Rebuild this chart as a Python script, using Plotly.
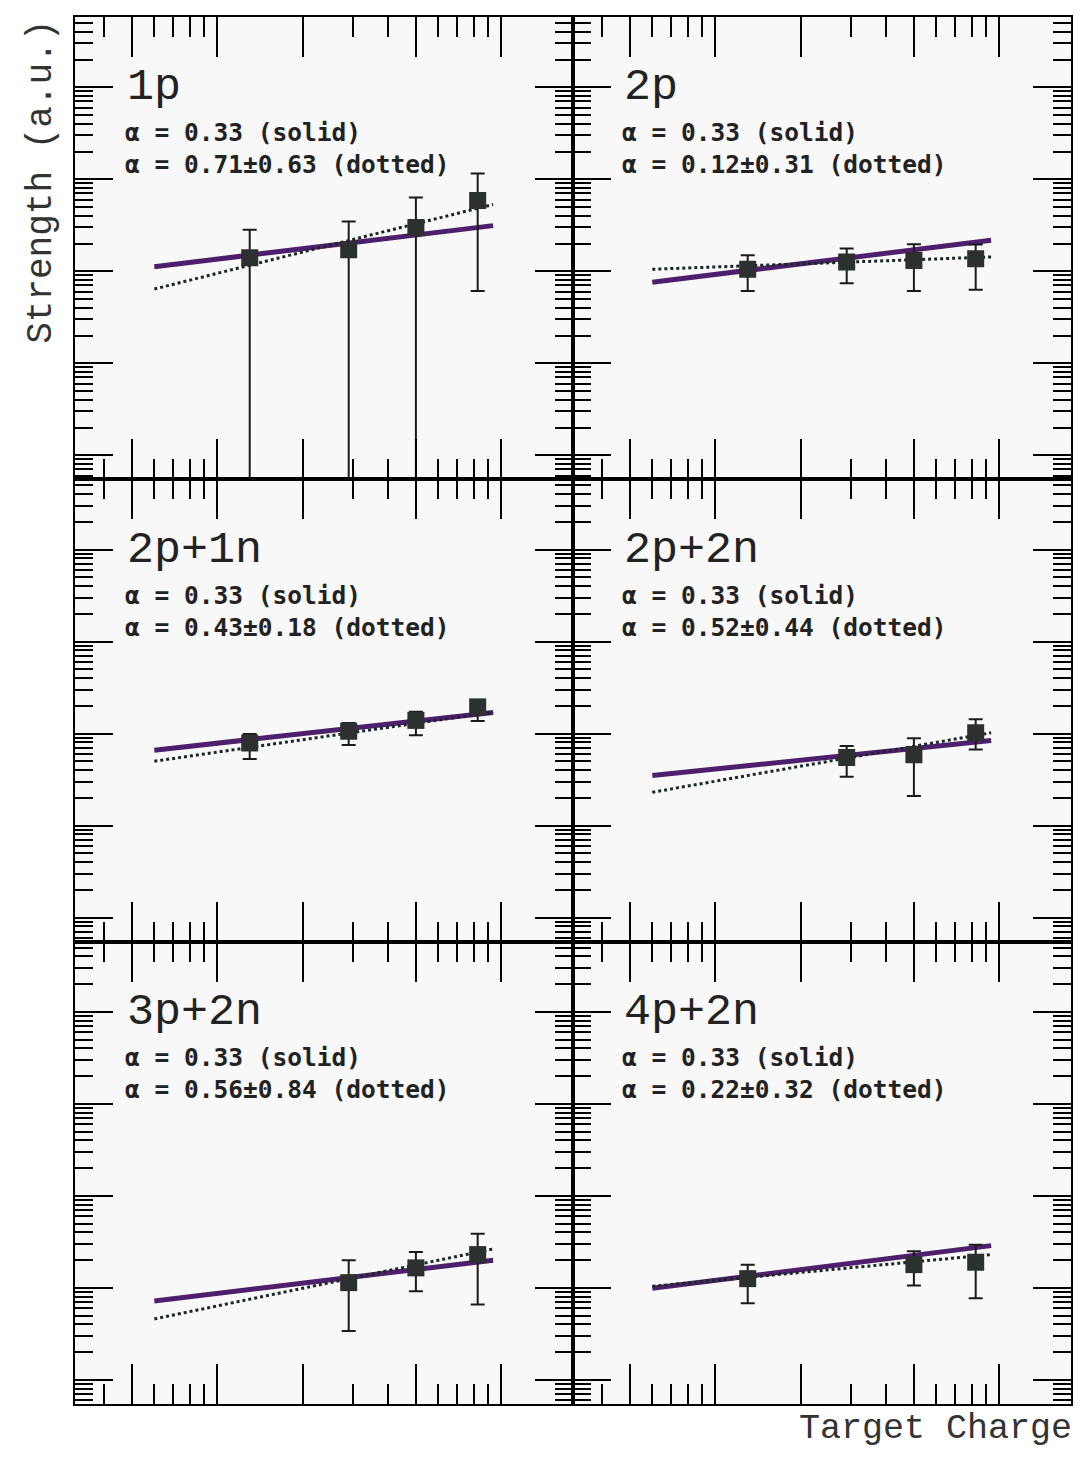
import plotly.graph_objects as go
from plotly.subplots import make_subplots

# ---------------- data ----------------
panel_names = ["1p", "2p", "2p+1n", "2p+2n", "3p+2n", "4p+2n"]
alpha_fixed = "0.33"
alpha_fit = ["0.71±0.63", "0.12±0.31", "0.43±0.18", "0.52±0.44", "0.56±0.84", "0.22±0.32"]

charge_1p = [26, 58, 100, 165]
strength_1p = [140, 171, 298, 586]
upper_1p = [283, 347, 632, 1156]
lower_1p = [0, 0, 0, 61]

charge_2p = [26, 58, 100, 165]
strength_2p = [105, 126, 131, 137]
upper_2p = [149, 177, 196, 195]
lower_2p = [61, 74, 61, 63]

charge_2p1n = [26, 58, 100, 165]
strength_2p1n = [79, 106, 139, 195]
upper_2p1n = [99, 130, 173, 230]
lower_2p1n = [53, 75, 96, 137]

charge_2p2n = [58, 100, 165]
strength_2p2n = [55, 59, 102]
upper_2p2n = [73, 89, 143]
lower_2p2n = [34, 21, 67]

charge_3p2n = [58, 100, 165]
strength_3p2n = [11.4, 16.5, 23.0]
upper_3p2n = [20.0, 24.6, 38.8]
lower_3p2n = [3.4, 9.2, 6.6]

charge_4p2n = [26, 100, 165]
strength_4p2n = [12.6, 17.9, 19.0]
upper_4p2n = [17.9, 25.0, 29.5]
lower_4p2n = [6.8, 10.6, 7.7]

fit_charge = [12, 187]
solid_fit = [[112, 313], [76, 217], [66, 169], [35, 84], [7.2, 20.0], [9.9, 28.8]]
dotted_fit = [[64, 531], [105, 143], [50, 171], [23, 102], [4.6, 26.5], [10.4, 23.0]]

# axis tick values
x_major = [10, 20, 40, 100, 200]
x_minor = [8, 12, 14, 16, 18, 60, 80, 120, 140, 160, 180]
y_major = [1, 10, 100, 1000, 10000]
y_minor = [m * 10 ** k for k in range(-1, 5) for m in range(2, 10)]

panels = [
    (charge_1p, strength_1p, upper_1p, lower_1p),
    (charge_2p, strength_2p, upper_2p, lower_2p),
    (charge_2p1n, strength_2p1n, upper_2p1n, lower_2p1n),
    (charge_2p2n, strength_2p2n, upper_2p2n, lower_2p2n),
    (charge_3p2n, strength_3p2n, upper_3p2n, lower_3p2n),
    (charge_4p2n, strength_4p2n, upper_4p2n, lower_4p2n),
]

# ---------------- figure ----------------
# the page body has an 8px margin: compensate so the plot lands where the reference has it
OFF = 8
W, H = 1072, 1445
ML, MR, MT, MB = 75 - OFF, 8, 15 - OFF, 49
PW, PH = W - ML - MR, H - MT - MB

fig = make_subplots(rows=3, cols=2, horizontal_spacing=0, vertical_spacing=0)

SOLID_COLOR = "#4e1f6c"
DOT_COLOR = "#1c2626"
MARK_COLOR = "#2c302e"

for i, (xs, ys, up, lo) in enumerate(panels):
    r, c = i // 2 + 1, i % 2 + 1
    fig.add_trace(go.Scatter(x=fit_charge, y=solid_fit[i], mode="lines",
                             line=dict(color=SOLID_COLOR, width=5), showlegend=False),
                  row=r, col=c)
    fig.add_trace(go.Scatter(x=fit_charge, y=dotted_fit[i], mode="lines",
                             line=dict(color=DOT_COLOR, width=3, dash="dot"), showlegend=False),
                  row=r, col=c)
    fig.add_trace(go.Scatter(
        x=xs, y=ys, mode="markers",
        marker=dict(symbol="square", size=17, color=MARK_COLOR),
        error_y=dict(type="data", symmetric=False,
                     array=[u - y for u, y in zip(up, ys)],
                     arrayminus=[y - l for y, l in zip(ys, lo)],
                     color="#1a1a1a", thickness=2, width=7),
        showlegend=False), row=r, col=c)

axis_common = dict(type="log", showgrid=False, zeroline=False, showline=True,
                   linecolor="black", linewidth=2, mirror="ticks", ticks="inside",
                   tickcolor="black", tickwidth=2, showticklabels=False, tickmode="array")

fig.update_xaxes(**axis_common, range=[0.80, 2.553], tickvals=x_major, ticklen=40,
                 minor=dict(tickmode="array", tickvals=x_minor, ticks="inside", ticklen=20,
                            tickwidth=2, tickcolor="black", showgrid=False))
fig.update_yaxes(**axis_common, range=[-0.262, 4.763], tickvals=y_major, ticklen=38,
                 minor=dict(tickmode="array", tickvals=y_minor, ticks="inside", ticklen=18,
                            tickwidth=1.6, tickcolor="black", showgrid=False))


def px(xp):
    return (xp - OFF - ML) / PW


def py(yp):
    return 1 - (yp - OFF - MT) / PH


annotations = []
col_left = [75, 573]
row_top = [15, 478, 941]
for i, name in enumerate(panel_names):
    r, c = i // 2, i % 2
    x0 = col_left[c] + 50
    y0 = row_top[r]
    annotations.append(dict(x=px(x0), y=py(y0 + 71), xref="paper", yref="paper",
                            text=name, showarrow=False, xanchor="left", yanchor="middle",
                            font=dict(family="Liberation Mono", size=45, color="#222")))
    annotations.append(dict(x=px(x0 - 2), y=py(y0 + 116), xref="paper", yref="paper",
                            text="<b>α = " + alpha_fixed + " (solid)</b>", showarrow=False,
                            xanchor="left", yanchor="middle",
                            font=dict(family="DejaVu Sans Mono", size=24.5, color="#222")))
    annotations.append(dict(x=px(x0 - 2), y=py(y0 + 148), xref="paper", yref="paper",
                            text="<b>α = " + alpha_fit[i] + " (dotted)</b>", showarrow=False,
                            xanchor="left", yanchor="middle",
                            font=dict(family="DejaVu Sans Mono", size=24.5, color="#222")))

annotations.append(dict(x=px(42), y=py(180), xref="paper", yref="paper", text="Strength (a.u.)",
                        showarrow=False, textangle=-90, xanchor="center", yanchor="middle",
                        font=dict(family="Liberation Mono", size=36, color="#333")))
annotations.append(dict(x=px(1075), y=py(1429), xref="paper", yref="paper", text="Target Charge",
                        showarrow=False, xanchor="right", yanchor="middle",
                        font=dict(family="Liberation Mono", size=35, color="#333")))

fig.update_layout(width=W, height=H, margin=dict(l=ML, r=MR, t=MT, b=MB),
                  paper_bgcolor="white", plot_bgcolor="#f8f8f8",
                  annotations=annotations, showlegend=False)

fig.write_html("out.html")
